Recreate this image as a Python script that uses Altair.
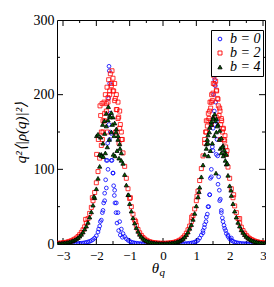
import altair as alt
import pandas as pd

# ---------------- data ----------------
series_names = ["b = 0", "b = 2", "b = 4"]

theta_grid = [
    -3.15, -3.10, -3.05, -3.00, -2.95, -2.90, -2.85, -2.80, -2.75, -2.70,
    -2.65, -2.60, -2.55, -2.50, -2.45, -2.40, -2.35, -2.30, -2.25, -2.20,
    -2.15, -2.10, -2.05, -2.00, -1.95, -1.90, -1.85, -1.80, -1.75, -1.70,
    -1.65, -1.60, -1.55, -1.50, -1.45, -1.40, -1.35, -1.30, -1.25, -1.20,
    -1.15, -1.10, -1.05, -1.00, -0.95, -0.90, -0.85, -0.80, -0.75, -0.70,
    -0.65, -0.60, -0.55, -0.50, -0.45, -0.40, -0.35, -0.30, -0.25, -0.20,
    -0.15, -0.10, -0.05, 0.00, 0.05, 0.10, 0.15, 0.20, 0.25, 0.30,
    0.35, 0.40, 0.45, 0.50, 0.55, 0.60, 0.65, 0.70, 0.75, 0.80,
    0.85, 0.90, 0.95, 1.00, 1.05, 1.10, 1.15, 1.20, 1.25, 1.30,
    1.35, 1.40, 1.45, 1.50, 1.55, 1.60, 1.65, 1.70, 1.75, 1.80,
    1.85, 1.90, 1.95, 2.00, 2.05, 2.10, 2.15, 2.20, 2.25, 2.30,
    2.35, 2.40, 2.45, 2.50, 2.55, 2.60, 2.65, 2.70, 2.75, 2.80,
    2.85, 2.90, 2.95, 3.00, 3.05, 3.10, 3.15,
]

b0_grid = [
    0.1, 0.1, 0.1, 0.1, 0.15, 0.15, 0.2, 0.2, 0.25, 0.3,
    0.35, 0.45, 0.6, 0.8, 1.0, 1.3, 1.7, 2.2, 2.8, 3.5,
    4.5, 6, 8, 11, 16, 24, 32, 45, 58, 75,
    100, 140, 112, 95, 72, 55, 42, 30, 20, 14,
    10, 7, 5, 3.6, 2.6, 1.9, 1.4, 1.0, 0.75, 0.55,
    0.4, 0.3, 0.25, 0.2, 0.15, 0.15, 0.1, 0.1, 0.1, 0.1,
    0.1, 0.1, 0.1, 0.1, 0.1, 0.1, 0.1, 0.1, 0.1, 0.1,
    0.15, 0.15, 0.2, 0.2, 0.25, 0.3, 0.4, 0.55, 0.75, 1.0,
    1.3, 1.8, 2.5, 3.5, 5, 8, 12, 18, 26, 36,
    50, 66, 90, 125, 160, 120, 80, 58, 42, 30,
    21, 14, 10, 7, 5, 3.6, 2.6, 1.9, 1.4, 1.0,
    0.75, 0.55, 0.4, 0.3, 0.25, 0.2, 0.15, 0.15, 0.1, 0.1,
    0.1, 0.1, 0.1, 0.1, 0.1, 0.1, 0.1,
]
b0_extra_theta = [-1.62, -1.61, -1.60, -1.63, -1.59, -1.62, -1.58, -1.66, -1.55, -1.53,
                  -1.67, -1.70, -1.50, -1.72, -1.48, -1.75, -1.46, -1.78, -1.44, -1.82,
                  -1.41, -1.88, -1.38, -1.93, -1.33, -1.28, -1.22,
                  1.53, 1.55, 1.57, 1.52, 1.58, 1.54, 1.60, 1.50, 1.62, 1.48,
                  1.64, 1.45, 1.67, 1.42, 1.69, 1.40, 1.72, 1.37, 1.75, 1.33,
                  1.78, 1.29, 1.83, 1.24, 1.88, 1.20, 1.95, 2.05]
b0_extra_value = [238, 232, 215, 195, 175, 160, 150, 135, 148, 112,
                  112, 112, 95, 86, 78, 68, 65, 55, 55, 42,
                  42, 30, 28, 20, 18, 12, 9,
                  228, 220, 212, 200, 190, 178, 165, 155, 140, 130,
                  118, 100, 90, 88, 72, 66, 60, 50, 45, 40,
                  35, 30, 25, 22, 18, 15, 12, 8]

b2_grid = [
    0.9, 1.0, 1.2, 1.5, 1.9, 2.3, 2.8, 3.5, 4.3, 5.3,
    6.5, 8, 10, 12.5, 15.5, 19, 23, 28, 34, 41,
    49, 58, 69, 82, 97, 115, 132, 150, 165, 178,
    190, 200, 212, 205, 192, 180, 168, 155, 140, 122,
    104, 88, 74, 61, 50, 40, 32, 25, 19.5, 15,
    11.5, 8.8, 6.7, 5.1, 3.9, 3.0, 2.4, 1.9, 1.6, 1.3,
    1.1, 1.0, 0.9, 0.8, 0.9, 1.0, 1.1, 1.3, 1.6, 1.9,
    2.4, 3.0, 3.9, 5.0, 6.5, 8.5, 11, 14.5, 19, 24,
    30, 38, 47, 58, 71, 85, 101, 118, 135, 150,
    165, 178, 190, 202, 214, 206, 194, 182, 168, 154,
    138, 120, 103, 88, 74, 62, 51, 42, 34, 28,
    22.5, 18, 14.5, 11.5, 9.2, 7.4, 6, 4.9, 4, 3.2,
    2.6, 2.1, 1.7, 1.4, 1.2, 1.0, 0.9,
]
b2_extra_theta = [-1.89, -1.87, -1.85, -1.83, -1.80, -1.77, -1.75, -1.73, -1.70, -1.68,
                  -1.65, -1.63, -1.60, -1.58, -1.55, -1.53, -1.50, -1.48, -1.45, -1.43,
                  -1.40, -1.38, -1.35, -1.33, -1.30, -1.28, -1.25, -1.94, -1.99, -1.22,
                  -1.82, -1.67, -1.42, -1.32, -2.12, -2.32, -0.98, -0.82,
                  1.25, 1.28, 1.30, 1.33, 1.36, 1.38, 1.41, 1.43, 1.46, 1.48,
                  1.51, 1.53, 1.56, 1.58, 1.61, 1.63, 1.66, 1.68, 1.71, 1.73,
                  1.76, 1.78, 1.81, 1.83, 1.86, 1.88, 1.92, 1.45, 1.60, 1.72,
                  1.02, 0.86, 2.12, 2.30]
b2_extra_value = [185, 172, 150, 188, 165, 190, 175, 200, 188, 210,
                  196, 220, 205, 228, 215, 232, 222, 205, 215, 195,
                  200, 180, 190, 170, 178, 160, 150, 140, 120, 140,
                  140, 150, 150, 135, 62, 33, 62, 30,
                  140, 150, 165, 158, 175, 168, 190, 182, 200, 192,
                  215, 225, 232, 218, 205, 195, 185, 172, 178, 160,
                  165, 150, 155, 140, 145, 130, 125, 160, 170, 140,
                  64, 36, 66, 34]

b4_grid = [
    0.7, 0.8, 1.0, 1.2, 1.5, 1.9, 2.3, 2.9, 3.6, 4.5,
    5.5, 6.8, 8.5, 10.5, 13, 16, 20, 24, 29, 36,
    43, 52, 62, 74, 88, 104, 120, 135, 148, 158,
    166, 172, 176, 170, 162, 154, 145, 134, 122, 108,
    93, 79, 66, 54, 44, 35, 28, 22, 17, 13,
    10, 7.6, 5.8, 4.4, 3.4, 2.6, 2.0, 1.6, 1.3, 1.1,
    0.9, 0.8, 0.7, 0.7, 0.7, 0.8, 0.9, 1.1, 1.3, 1.6,
    2.0, 2.5, 3.3, 4.3, 5.6, 7.3, 9.5, 12.5, 16, 21,
    26, 33, 41, 51, 63, 76, 90, 106, 120, 134,
    146, 156, 164, 170, 174, 168, 160, 152, 142, 132,
    122, 107, 92, 78, 65, 54, 44, 36, 29, 24,
    19, 15.5, 12.5, 10, 8, 6.5, 5.2, 4.2, 3.4, 2.8,
    2.2, 1.8, 1.5, 1.2, 1.0, 0.9, 0.8,
]
b4_extra_theta = [-1.99, -1.95, -1.90, -1.87, -1.84, -1.81, -1.79, -1.76, -1.73, -1.70,
                  -1.67, -1.64, -1.61, -1.58, -1.55, -1.52, -1.49, -1.47, -1.44, -1.41,
                  -1.38, -1.35, -1.32, -1.29, -1.25, -2.07, -1.03,
                  1.30, 1.33, 1.36, 1.39, 1.42, 1.45, 1.48, 1.51, 1.54, 1.57,
                  1.60, 1.63, 1.59, 1.69, 1.72, 1.75, 1.78, 1.81, 1.84, 1.87,
                  1.90, 1.93, 1.35, 1.08, 2.04]
b4_extra_value = [145, 147, 120, 143, 118, 160, 117, 165, 122, 175,
                  130, 184, 140, 170, 150, 160, 120, 145, 118, 150,
                  125, 140, 115, 128, 112, 64, 66,
                  128, 140, 118, 150, 125, 160, 135, 168, 145, 165,
                  150, 158, 95, 140, 128, 122, 130, 118, 126, 112,
                  120, 108, 135, 70, 72]

x_label_values = [-3, -2, -1, 0, 1, 2, 3]
x_minor_ticks = [-2.5, -1.5, -0.5, 0.5, 1.5, 2.5]
y_label_values = [0, 100, 200, 300]
y_major_ticks = [100, 200]
y_minor_ticks = [50, 150, 250]

# ---------------- table ----------------
rows = []
for th, v in zip(theta_grid + b0_extra_theta, b0_grid + b0_extra_value):
    rows.append({"theta": th, "value": v, "series": series_names[0]})
for th, v in zip(theta_grid + b2_extra_theta, b2_grid + b2_extra_value):
    rows.append({"theta": th, "value": v, "series": series_names[1]})
for th, v in zip(theta_grid + b4_extra_theta, b4_grid + b4_extra_value):
    rows.append({"theta": th, "value": v, "series": series_names[2]})
df = pd.DataFrame(rows)

W, H = 208, 224
FONT = "Liberation Serif"
xscale = alt.Scale(domain=[-3.18, 3.06], nice=False, zero=False)
yscale = alt.Scale(domain=[0, 300], nice=False, zero=False)

xaxis = alt.Axis(values=x_label_values, ticks=False, domain=False, grid=False,
                 labelFont=FONT, labelFontSize=13, labelColor="black",
                 labelPadding=5, labelFlush=False, title=None)
yaxis = alt.Axis(values=y_label_values, ticks=False, domain=False, grid=False,
                 labelFont=FONT, labelFontSize=14, labelColor="black",
                 labelPadding=3, labelFlush=False,
                 title="q²⟨|ρ(q)|²⟩", titleFont=FONT, titleFontSize=15,
                 titleFontStyle="italic", titleFontWeight="normal",
                 titleColor="black", titlePadding=5)

points = alt.Chart(df).mark_point(opacity=1, strokeWidth=0.8, clip=True).encode(
    x=alt.X("theta:Q", scale=xscale, axis=xaxis),
    y=alt.Y("value:Q", scale=yscale, axis=yaxis),
    shape=alt.Shape("series:N",
                    scale=alt.Scale(domain=series_names, range=["circle", "square", "triangle-up"]),
                    legend=alt.Legend(title=None, orient="none", legendX=154, legendY=10,
                                      strokeColor="black", fillColor="white", padding=2,
                                      labelFont=FONT, labelFontSize=14, labelFontStyle="italic",
                                      labelColor="black", labelOffset=3, rowPadding=0,
                                      clipHeight=14, symbolStrokeWidth=0.9, cornerRadius=0)),
    stroke=alt.Stroke("series:N",
                      scale=alt.Scale(domain=series_names, range=["#0000ff", "#ff0000", "#000000"])),
    fill=alt.Fill("series:N",
                  scale=alt.Scale(domain=series_names, range=["transparent", "transparent", "#006400"])),
    size=alt.Size("series:N",
                  scale=alt.Scale(domain=series_names, range=[14, 18, 24])),
)


def tick_layer(vals, axis_ch, length, side):
    d = pd.DataFrame({"t": vals})
    base = alt.Chart(d).mark_rule(color="black", strokeWidth=1)
    if axis_ch == "x":
        if side == "bottom":
            return base.encode(x=alt.X("t:Q", scale=xscale, axis=xaxis),
                               y=alt.value(H), y2=alt.value(H - length))
        return base.encode(x=alt.X("t:Q", scale=xscale, axis=xaxis),
                           y=alt.value(0), y2=alt.value(length))
    if side == "left":
        return base.encode(y=alt.Y("t:Q", scale=yscale, axis=yaxis),
                           x=alt.value(0), x2=alt.value(length))
    return base.encode(y=alt.Y("t:Q", scale=yscale, axis=yaxis),
                       x=alt.value(W), x2=alt.value(W - length))


ticks = [
    tick_layer(x_label_values, "x", 6, "bottom"),
    tick_layer(x_label_values, "x", 6, "top"),
    tick_layer(x_minor_ticks, "x", 3, "bottom"),
    tick_layer(x_minor_ticks, "x", 3, "top"),
    tick_layer(y_major_ticks, "y", 6, "left"),
    tick_layer(y_major_ticks, "y", 6, "right"),
    tick_layer(y_minor_ticks, "y", 3, "left"),
    tick_layer(y_minor_ticks, "y", 3, "right"),
]

one = pd.DataFrame({"k": [0]})
xtitle_main = alt.Chart(one).mark_text(font=FONT, fontSize=15, fontStyle="italic",
                                       color="black", align="center", baseline="alphabetic").encode(
    text=alt.value("θ"), x=alt.value(98.5), y=alt.value(253))
xtitle_sub = alt.Chart(one).mark_text(font=FONT, fontSize=11, fontStyle="italic",
                                      color="black", align="left", baseline="alphabetic").encode(
    text=alt.value("q"), x=alt.value(102.5), y=alt.value(256))

chart = alt.layer(*ticks, points, xtitle_main, xtitle_sub).properties(
    width=W, height=H,
    autosize=alt.AutoSizeParams(type="none"),
    padding={"left": 49, "top": 12, "right": 1, "bottom": 35},
).configure_view(stroke="black", strokeWidth=1)

chart.save("out.html", embed_options={"renderer": "svg", "actions": False})
